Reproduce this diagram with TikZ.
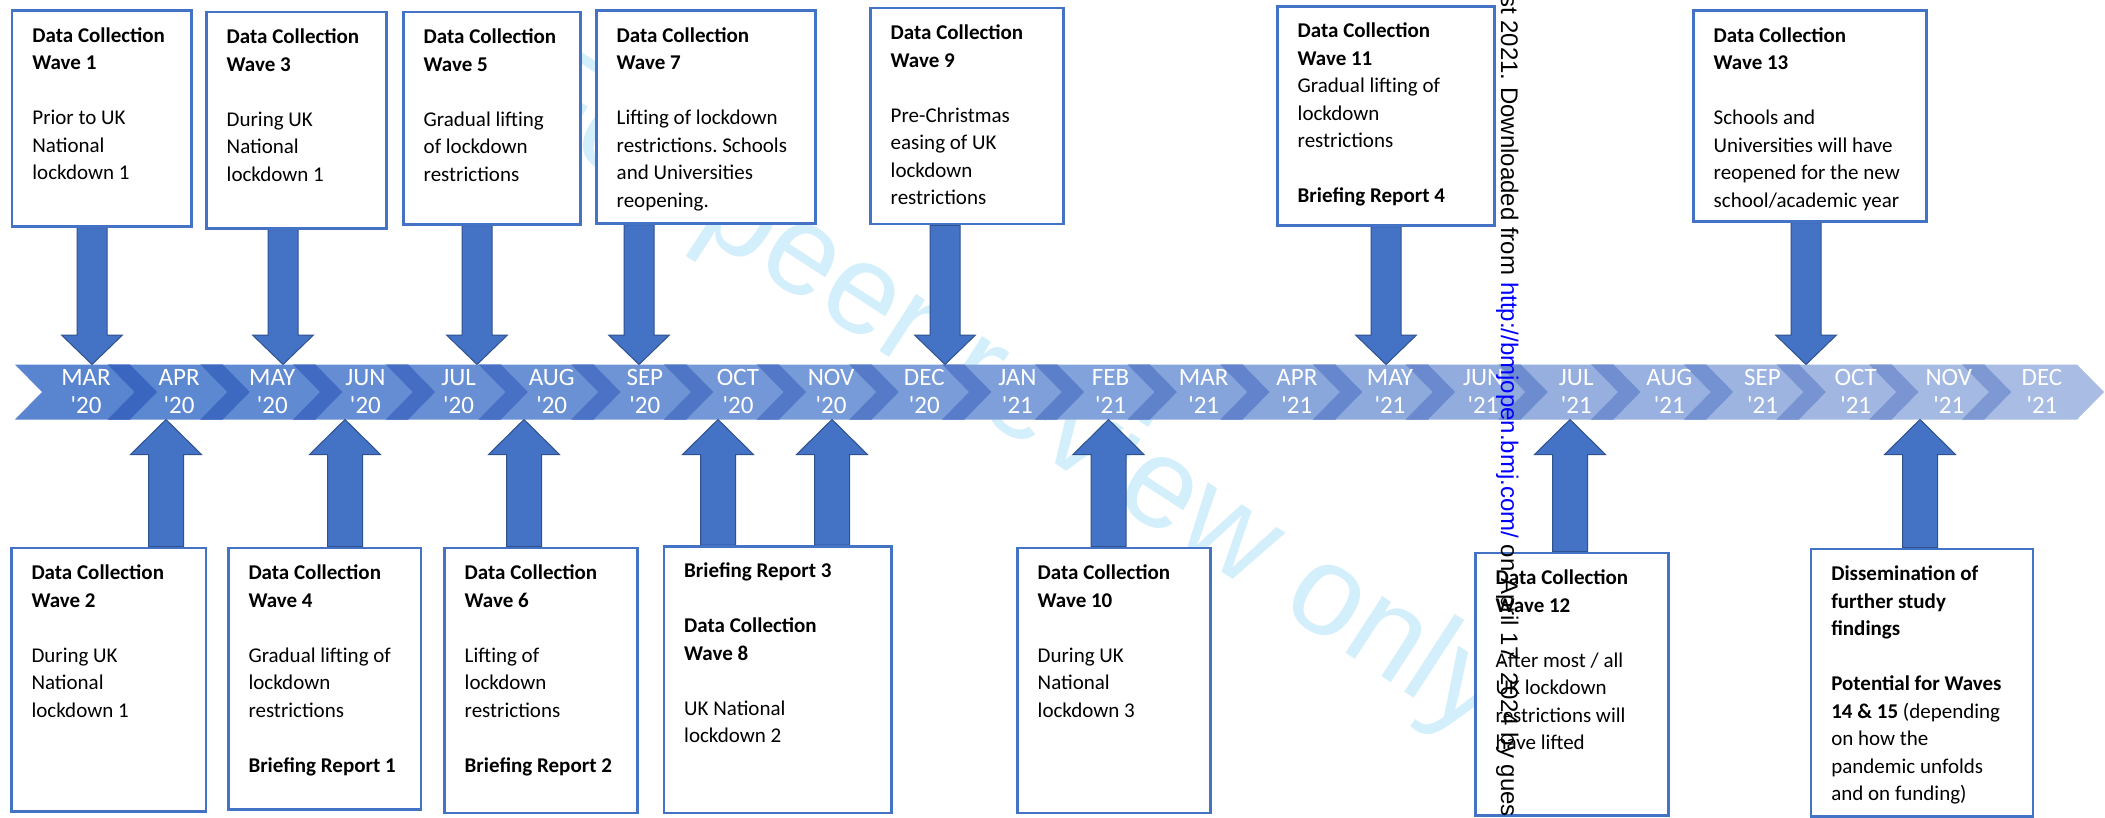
\documentclass[tikz,border=0pt]{standalone}
\usepackage{fontspec}
\setmainfont{Carlito}
\newfontfamily\wmfont{Liberation Sans}
\usetikzlibrary{calc}
\pgfdeclarelayer{bg}
\pgfsetlayers{bg,main}
\frenchspacing
\definecolor{boxblue}{RGB}{68,114,196}
\definecolor{arrowfill}{RGB}{68,114,196}
\definecolor{arrowedge}{RGB}{47,82,143}
\definecolor{chevL}{RGB}{88,132,208}
\definecolor{chevR}{RGB}{168,188,228}
\definecolor{stripeL}{RGB}{58,102,192}
\definecolor{stripeR}{RGB}{126,152,212}
\definecolor{wmcyan}{RGB}{212,239,252}
\definecolor{linkblue}{RGB}{0,0,255}
\newcommand\DownArr[2]{\draw[fatarrow] ($(#2|-#1.south)+(-15,0)$) -- ($(#2)+(-15,-29.5)$) -- ($(#2)+(-30.5,-29.5)$) -- (#2) -- ($(#2)+(30.5,-29.5)$) -- ($(#2)+(15,-29.5)$) -- ($(#2|-#1.south)+(15,0)$) -- cycle;}
\newcommand\UpArr[2]{\draw[fatarrow] ($(#2|-#1.north)+(-17.5,0)$) -- ($(#2)+(-17.5,35)$) -- ($(#2)+(-35.5,35)$) -- (#2) -- ($(#2)+(35.5,35)$) -- ($(#2)+(17.5,35)$) -- ($(#2|-#1.north)+(17.5,0)$) -- cycle;}
\begin{document}
\begin{tikzpicture}[x=1pt,y=-1pt,
  box/.style={draw=boxblue, line width=2.7pt, fill=white, rectangle, inner sep=0pt, anchor=north west},
  txt/.style={anchor=north west, align=left, inner sep=0pt, font=\fontsize{21}{27.5}\selectfont},
  fatarrow/.style={fill=arrowfill, draw=arrowedge, line width=1pt, line join=miter},
  month/.style={text=white, align=center, inner sep=0pt, font=\fontsize{25}{28.5}\selectfont},
]
\useasboundingbox (0,0) rectangle (2105,817);

% ---------- boxes (top) ----------
\node[box, minimum width=179.3, minimum height=215.7] (b1) at (10.7,9.3) {};
\node[box, minimum width=180, minimum height=216.3] (b3) at (205,10.7) {};
\node[box, minimum width=177, minimum height=212.3] (b5) at (402,10.7) {};
\node[box, minimum width=219, minimum height=212.7] (b7) at (595,9.3) {};
\node[box, minimum width=193, minimum height=216] (b9) at (869,6.7) {};
\node[box, minimum width=217, minimum height=219] (b11) at (1276,5) {};
\node[box, minimum width=233, minimum height=210.7] (b13) at (1692,9.3) {};
% ---------- boxes (bottom) ----------
\node[box, minimum width=194.7, minimum height=263.3] (b2) at (9.8,546.7) {};
\node[box, minimum width=192.8, minimum height=261.6] (b4) at (226.8,546.7) {};
\node[box, minimum width=193, minimum height=265] (b6) at (443,546.7) {};
\node[box, minimum width=227.5, minimum height=266.7] (b8) at (662.5,545) {};
\node[box, minimum width=193, minimum height=265] (b10) at (1016,546.7) {};
\node[box, minimum width=193, minimum height=262.3] (b12) at (1474,551.7) {};
\node[box, minimum width=222.1, minimum height=267.3] (b14) at (1809.6,547.7) {};

% ---------- tips on the band ----------
\coordinate (p1) at (92,364.5);
\coordinate (p3) at (283,364.5);
\coordinate (p5) at (477,364.5);
\coordinate (p7) at (639,364.5);
\coordinate (p9) at (945,364.5);
\coordinate (p11) at (1386,364.5);
\coordinate (p13) at (1806,364.5);
\coordinate (q2) at (166,419.5);
\coordinate (q4) at (345,419.5);
\coordinate (q6) at (524,419.5);
\coordinate (q8a) at (718,419.5);
\coordinate (q8b) at (832,419.5);
\coordinate (q10) at (1108.5,419.5);
\coordinate (q12) at (1570,419.5);
\coordinate (q14) at (1920,419.5);

\begin{pgfonlayer}{bg}
  \fill[white] (0,0) rectangle (2105,817);
  % watermark
  \node[rotate=-33, anchor=base west, inner sep=0pt, text=wmcyan,
        font=\wmfont\fontsize{128}{128}\selectfont] (wm) at (503,106) {For peer review only};
  % chevron band
  \foreach \i in {0,...,21}{
    \pgfmathsetmacro\L{15+92.714*\i}
    \pgfmathtruncatemacro\pct{100-100*\i/21}
    \fill[chevL!\pct!chevR] (\L,364.5) -- ++(115,0) -- ++(27,27.5) -- ++(-27,27.5) -- ++(-115,0) -- ++(27,-27.5) -- cycle;
  }
  \foreach \i in {0,...,20}{
    \pgfmathsetmacro\R{15+92.714*\i+115}
    \pgfmathsetmacro\N{15+92.714*(\i+1)}
    \pgfmathtruncatemacro\pct{100-100*\i/20}
    \fill[stripeL!\pct!stripeR] (\N,364.5) -- (\R,364.5) -- (\R+27,392) -- (\R,419.5) -- (\N,419.5) -- (\N+27,392) -- cycle;
  }
  % arrows
  \DownArr{b1}{p1}
  \DownArr{b3}{p3}
  \DownArr{b5}{p5}
  \DownArr{b7}{p7}
  \DownArr{b9}{p9}
  \DownArr{b11}{p11}
  \DownArr{b13}{p13}
  \UpArr{b2}{q2}
  \UpArr{b4}{q4}
  \UpArr{b6}{q6}
  \UpArr{b8}{q8a}
  \UpArr{b8}{q8b}
  \UpArr{b10}{q10}
  \UpArr{b12}{q12}
  \UpArr{b14}{q14}
\end{pgfonlayer}

% ---------- month labels ----------
\foreach \m [count=\k from 0] in {MAR,APR,MAY,JUN,JUL,AUG,SEP,OCT,NOV,DEC,JAN,FEB,MAR,APR,MAY,JUN,JUL,AUG,SEP,OCT,NOV,DEC}{
  \pgfmathsetmacro\xx{86+93.14*\k}
  \pgfmathtruncatemacro\yr{\k<10 ? 20 : 21}
  \node[month] (m\k) at (\xx,391.5) {\m\\\textquotesingle\yr};
}

% ---------- texts (top) ----------
\node[txt] (t1) at ($(b1.north west)+(21.5,18)$) {\textbf{Data Collection}\\\textbf{Wave 1}\\[27.5pt]Prior to UK\\National\\lockdown 1};
\node[txt] (t3) at ($(b3.north west)+(21.5,18)$) {\textbf{Data Collection}\\\textbf{Wave 3}\\[27.5pt]During UK\\National\\lockdown 1};
\node[txt] (t5) at ($(b5.north west)+(21.5,18)$) {\textbf{Data Collection}\\\textbf{Wave 5}\\[27.5pt]Gradual lifting\\of lockdown\\restrictions};
\node[txt] (t7) at ($(b7.north west)+(21.5,18)$) {\textbf{Data Collection}\\\textbf{Wave 7}\\[27.5pt]Lifting of lockdown\\restrictions. Schools\\and Universities\\reopening.};
\node[txt] (t9) at ($(b9.north west)+(21.5,18)$) {\textbf{Data Collection}\\\textbf{Wave 9}\\[27.5pt]Pre-Christmas\\easing of UK\\lockdown\\restrictions};
\node[txt] (t11) at ($(b11.north west)+(21.5,18)$) {\textbf{Data Collection}\\\textbf{Wave 11}\\Gradual lifting of\\lockdown\\restrictions\\[27.5pt]\textbf{Briefing Report 4}};
\node[txt] (t13) at ($(b13.north west)+(21.5,18)$) {\textbf{Data Collection}\\\textbf{Wave 13}\\[27.5pt]Schools and\\Universities will have\\reopened for the new\\school/academic year};
% ---------- texts (bottom) ----------
\node[txt] (t2) at ($(b2.north west)+(21.5,18)$) {\textbf{Data Collection}\\\textbf{Wave 2}\\[27.5pt]During UK\\National\\lockdown 1};
\node[txt] (t4) at ($(b4.north west)+(21.5,18)$) {\textbf{Data Collection}\\\textbf{Wave 4}\\[27.5pt]Gradual lifting of\\lockdown\\restrictions\\[27.5pt]\textbf{Briefing Report 1}};
\node[txt] (t6) at ($(b6.north west)+(21.5,18)$) {\textbf{Data Collection}\\\textbf{Wave 6}\\[27.5pt]Lifting of\\lockdown\\restrictions\\[27.5pt]\textbf{Briefing Report 2}};
\node[txt] (t8) at ($(b8.north west)+(21.5,18)$) {\textbf{Briefing Report 3}\\[27.5pt]\textbf{Data Collection}\\\textbf{Wave 8}\\[27.5pt]UK National\\lockdown 2};
\node[txt] (t10) at ($(b10.north west)+(21.5,18)$) {\textbf{Data Collection}\\\textbf{Wave 10}\\[27.5pt]During UK\\National\\lockdown 3};
\node[txt] (t12) at ($(b12.north west)+(21.5,18)$) {\textbf{Data Collection}\\\textbf{Wave 12}\\[27.5pt]After most / all\\UK lockdown\\restrictions will\\have lifted};
\node[txt] (t14) at ($(b14.north west)+(21.5,18)$) {\textbf{Dissemination of}\\\textbf{further study}\\\textbf{findings}\\[27.5pt]\textbf{Potential for Waves}\\\textbf{14 \& 15} (depending\\on how the\\pandemic unfolds\\and on funding)};

% ---------- vertical margin stamp ----------
\node[rotate=-90, anchor=base west, inner sep=0pt, font=\wmfont\fontsize{24}{24}\selectfont] (vt) at (1501,-5) {st 2021. Downloaded from \textcolor{linkblue}{http://bmjopen.bmj.com/} on April 17, 2024 by gues};
\end{tikzpicture}
\end{document}
